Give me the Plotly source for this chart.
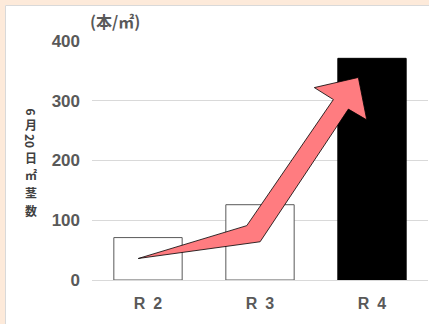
import plotly.graph_objects as go

# ---- data ----
categories = ["R\u20022", "R\u20023", "R\u20024"]
stem_counts = [71, 126, 371]
bar_fill = ["white", "white", "black"]
bar_edge = ["#595959", "#595959", "black"]
y_ticks = [0, 100, 200, 300, 400]
# decorative arrow vertices (category index units, value units)
arrow_x = [-0.087, 0.882, 1.655, 1.485, 1.878, 1.953, 1.789, 1.001, -0.087]
arrow_y = [36, 91, 302, 322, 339, 268, 286, 64, 36]

W, H = 429, 324
ML, MR, MT, MB = 92, 1, 41, 44
PW, PH = W - ML - MR, H - MT - MB


def px(x):
    return (x - ML) / PW


def py(y):
    return (H - MB - y) / PH


fig = go.Figure()
fig.add_trace(go.Bar(
    x=list(range(len(categories))), y=stem_counts, width=0.61,
    marker=dict(color=bar_fill, line=dict(color=bar_edge, width=1)),
    hoverinfo="skip", showlegend=False,
))
fig.add_trace(go.Scatter(
    x=arrow_x, y=arrow_y, mode="lines", fill="toself",
    fillcolor="#FF7C80", line=dict(color="black", width=0.8),
    hoverinfo="skip", showlegend=False,
))

gray = "#595959"
cjk = "Noto Sans CJK JP"

shapes = [
    dict(type="rect", xref="paper", yref="paper", x0=px(0), x1=px(W), y0=py(0), y1=py(5),
         fillcolor="#FDEADA", line=dict(width=0), layer="below"),
    dict(type="rect", xref="paper", yref="paper", x0=px(0), x1=px(5), y0=py(0), y1=py(H),
         fillcolor="#FDEADA", line=dict(width=0), layer="below"),
    dict(type="line", xref="paper", yref="paper", x0=px(5.5), x1=px(W), y0=py(5.5), y1=py(5.5),
         line=dict(color="#D9D9D9", width=1)),
    dict(type="line", xref="paper", yref="paper", x0=px(5.5), x1=px(5.5), y0=py(5.5), y1=py(H),
         line=dict(color="#D9D9D9", width=1)),
]

annotations = [
    dict(text="<b>(本/㎡)</b>", xref="paper", yref="paper", x=px(115), y=py(21),
         xanchor="center", yanchor="middle", showarrow=False,
         font=dict(family=cjk, size=16, color=gray)),
]
# vertical (tategaki) axis title: half-width digits turned sideways
vert = [("6", 111.5, 90), ("月", 124.5, 0), ("20", 141, 90), ("日", 157.3, 0),
        ("㎡", 174.9, 0), ("茎", 192.5, 0), ("数", 210.1, 0)]
for t, yy, rot in vert:
    annotations.append(dict(
        text="<b>" + t + "</b>", xref="paper", yref="paper", x=px(31), y=py(yy),
        xanchor="center", yanchor="middle", showarrow=False, textangle=rot,
        font=dict(family=cjk, size=12, color="#404040")))

fig.update_layout(
    width=W, height=H,
    margin=dict(l=ML, r=MR, t=MT, b=MB, pad=0),
    paper_bgcolor="white", plot_bgcolor="white",
    shapes=shapes, annotations=annotations,
    xaxis=dict(range=[-0.5, 2.5], tickvals=list(range(len(categories))), ticktext=categories,
               showgrid=False, zeroline=False, showline=False, ticks="",
               tickfont=dict(family="Liberation Sans", size=16, color=gray, weight="bold"),
               ticklabelstandoff=12, fixedrange=True),
    yaxis=dict(range=[0, 400], tickvals=y_ticks, showgrid=True, gridcolor="#D9D9D9",
               gridwidth=1, zeroline=True, zerolinecolor="#D9D9D9", zerolinewidth=1,
               showline=False, ticks="",
               tickfont=dict(family="Liberation Sans", size=17, color=gray, weight="bold"),
               ticklabelstandoff=11, fixedrange=True),
)

fig.write_html("out.html", config={"displayModeBar": False})
